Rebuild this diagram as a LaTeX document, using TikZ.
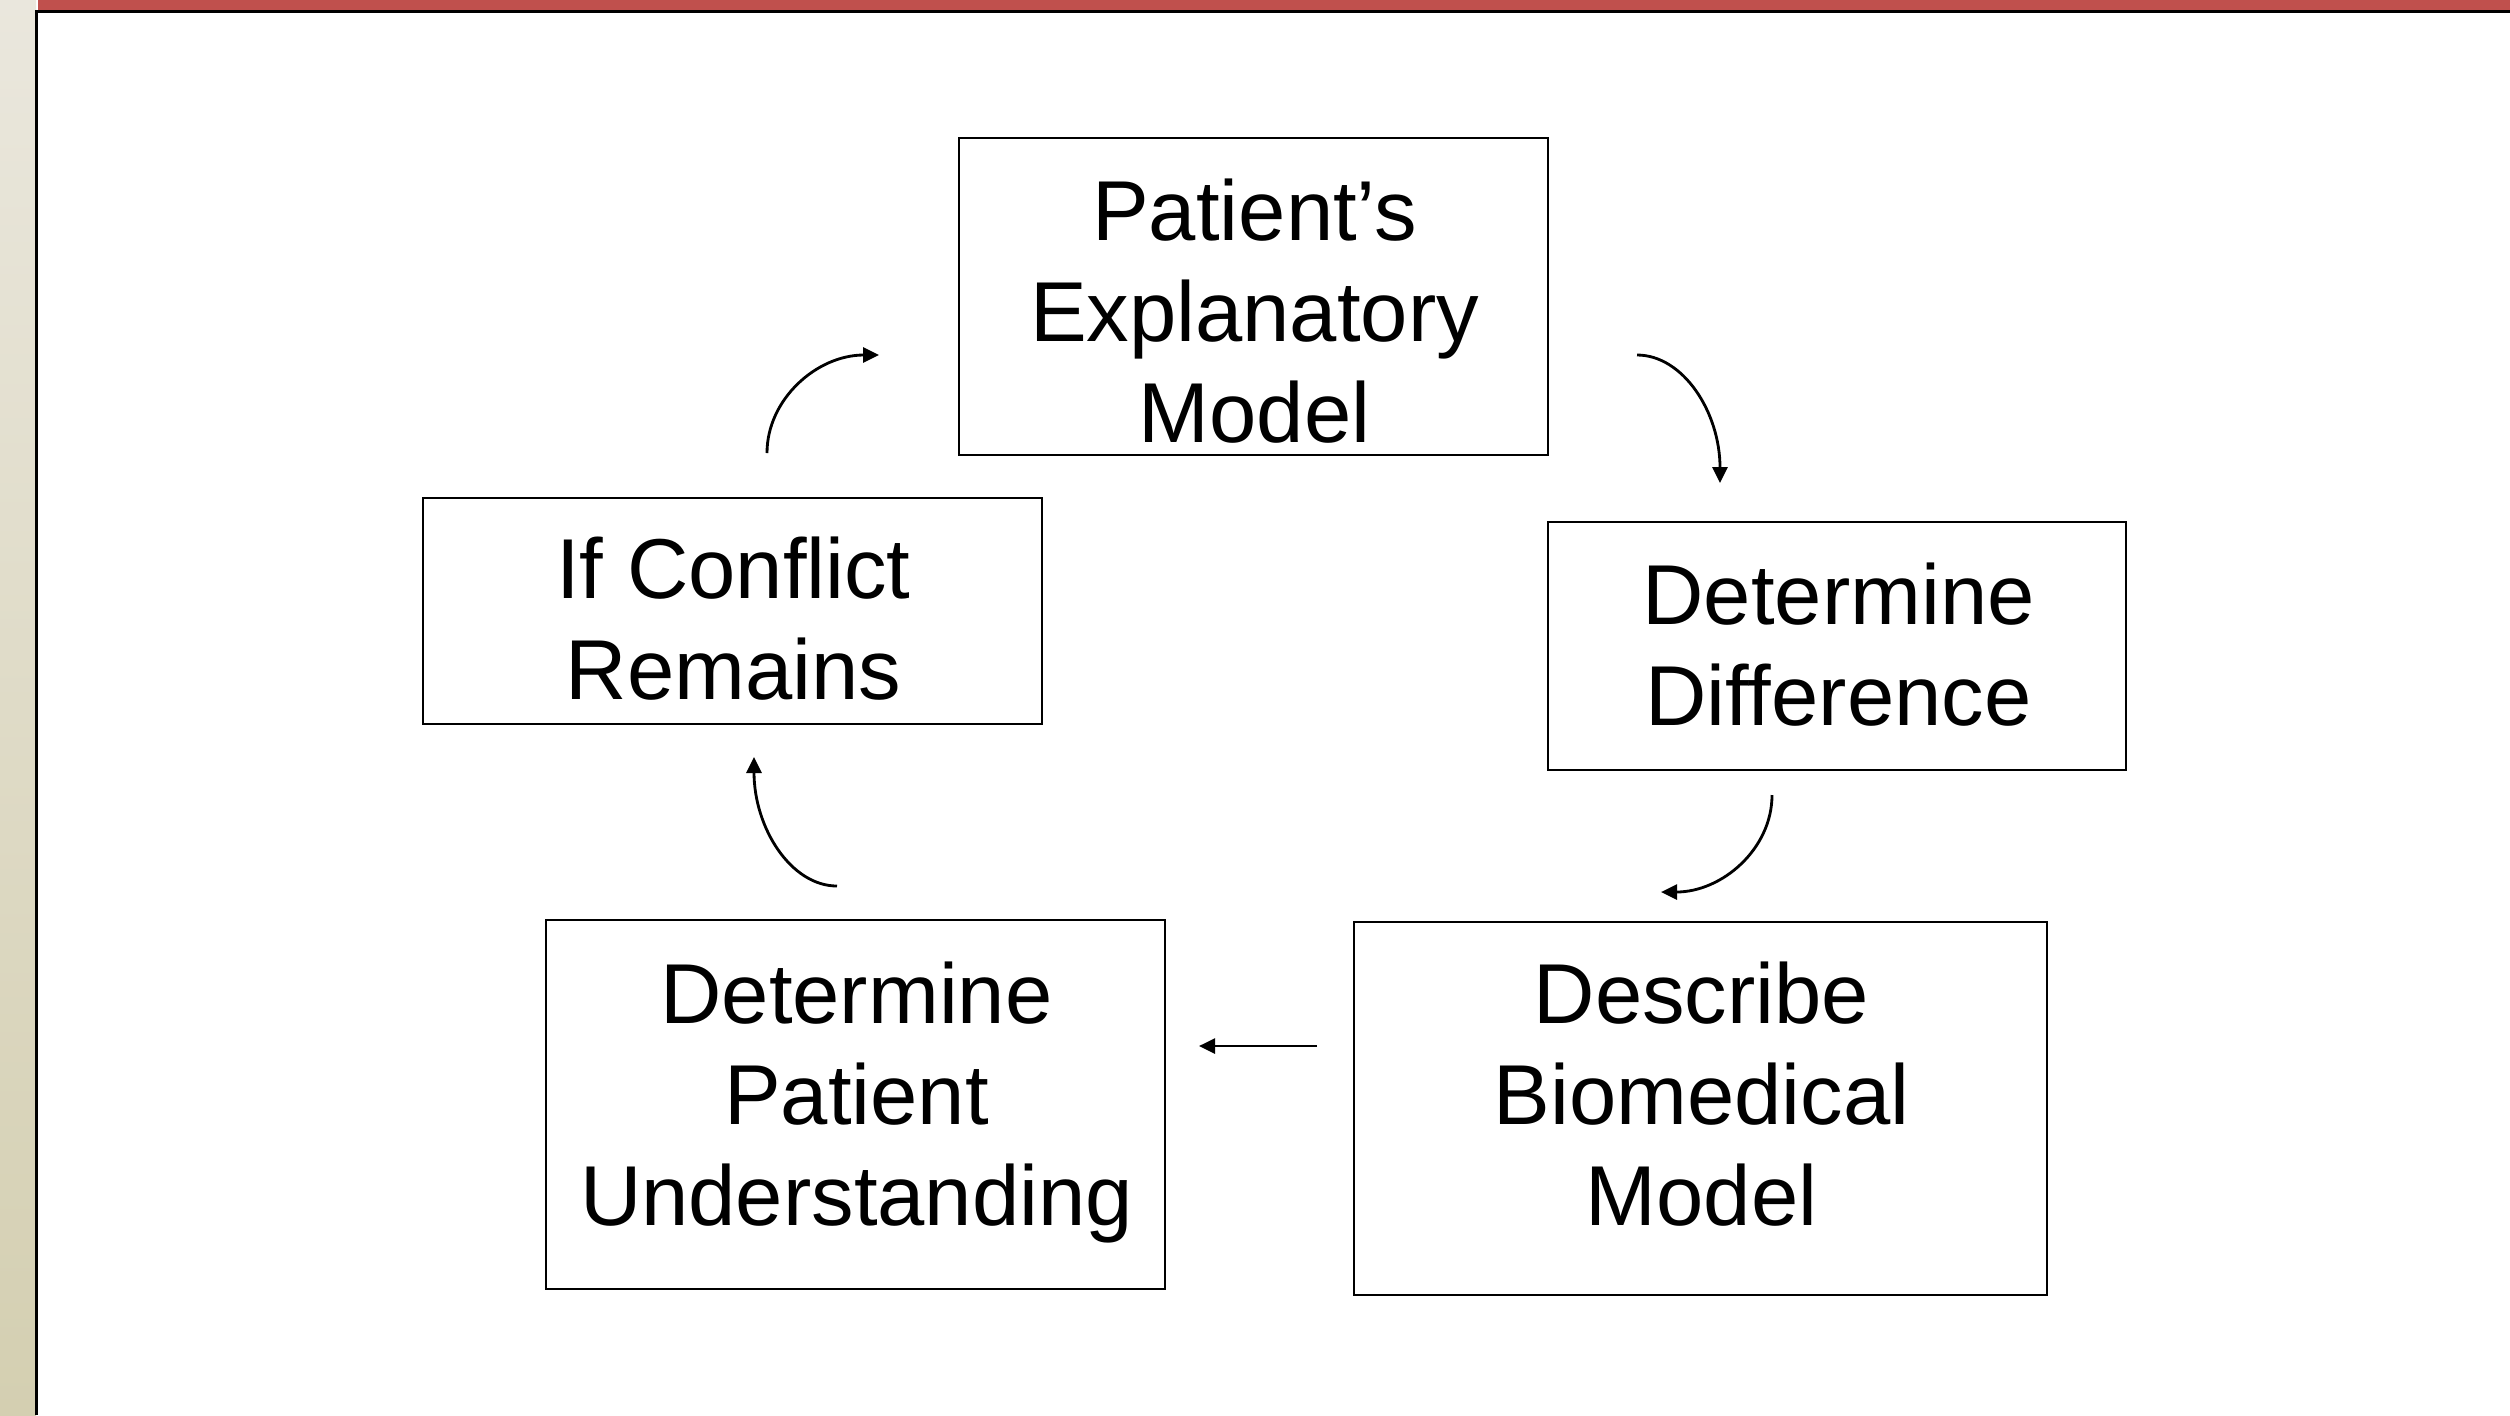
\documentclass[tikz,border=0pt]{standalone}
\usepackage{fontspec}
\setmainfont{Liberation Sans}
\usetikzlibrary{arrows.meta}
\definecolor{barred}{HTML}{C0504D}
\definecolor{beigetop}{HTML}{EAE7DD}
\definecolor{beigebot}{HTML}{D4CFB1}
\tikzset{
  boxst/.style={draw=black, line width=0.6pt, fill=white, inner sep=0pt},
  txtst/.style={anchor=base, inner sep=0pt, font=\fontsize{24.19pt}{28.74pt}\selectfont},
  arr/.style={line width=0.8pt, -{Triangle[length=1.6mm,width=1.5mm]}}
}
\newcommand{\lines}[1]{\begin{tabular}[t]{@{}c@{}}#1\end{tabular}}
\begin{document}
\begin{tikzpicture}[x=0.1mm,y=-0.1mm]
\useasboundingbox (0,0) rectangle (2510,1415);
% background and frame
\fill[white] (0,0) rectangle (2510,1415);
\shade[top color=beigetop, bottom color=beigebot] (0,0) rectangle (36,1415);
\fill[barred] (38,0) rectangle (2510,10);
\draw[black, line width=0.85pt] (36.5,1415) -- (36.5,11.5) -- (2510,11.5);
% boxes
\node[boxst, minimum width=58.9mm, minimum height=31.7mm] (b1) at (1253.5,296.5) {};
\node[boxst, minimum width=61.9mm, minimum height=22.6mm] (b2) at (732.5,611) {};
\node[boxst, minimum width=57.8mm, minimum height=24.8mm] (b3) at (1837,646) {};
\node[boxst, minimum width=69.3mm, minimum height=37.3mm] (b4) at (1700.5,1108.5) {};
\node[boxst, minimum width=61.9mm, minimum height=36.9mm] (b5) at (855.5,1104.5) {};
% texts
\node[txtst] (t1) at (1254.5,240) {\lines{Patient’s\\Explanatory\\Model}};
\node[txtst] (t2) at (733.5,598) {\lines{If Conflict\\Remains}};
\node[txtst] (t3) at (1838.5,624) {\lines{Determine\\Difference}};
\node[txtst] (t4) at (1701.5,1023) {\lines{Describe\\Biomedical\\Model}};
\node[txtst] (t5) at (856.5,1023) {\lines{Determine\\Patient\\Understanding}};
% arrow end points
\coordinate (a1s) at (767,453);  \coordinate (a1e) at (879,355);
\coordinate (a2s) at (1637,355); \coordinate (a2e) at (1720,483);
\coordinate (a3s) at (1772,795); \coordinate (a3e) at (1661,892);
\coordinate (a4s) at (1317,1046); \coordinate (a4e) at (1199,1046);
\coordinate (a5s) at (837,886);  \coordinate (a5e) at (754,757);
% arrows
\draw[arr] (a1s) .. controls (767,399) and (817,355) .. (a1e);
\draw[arr] (a2s) .. controls (1683,355) and (1720,412) .. (a2e);
\draw[arr] (a3s) .. controls (1772,849) and (1722,892) .. (a3e);
\draw[arr] (a4s) -- (a4e);
\draw[arr] (a5s) .. controls (791,886) and (754,828) .. (a5e);
\end{tikzpicture}
\end{document}
